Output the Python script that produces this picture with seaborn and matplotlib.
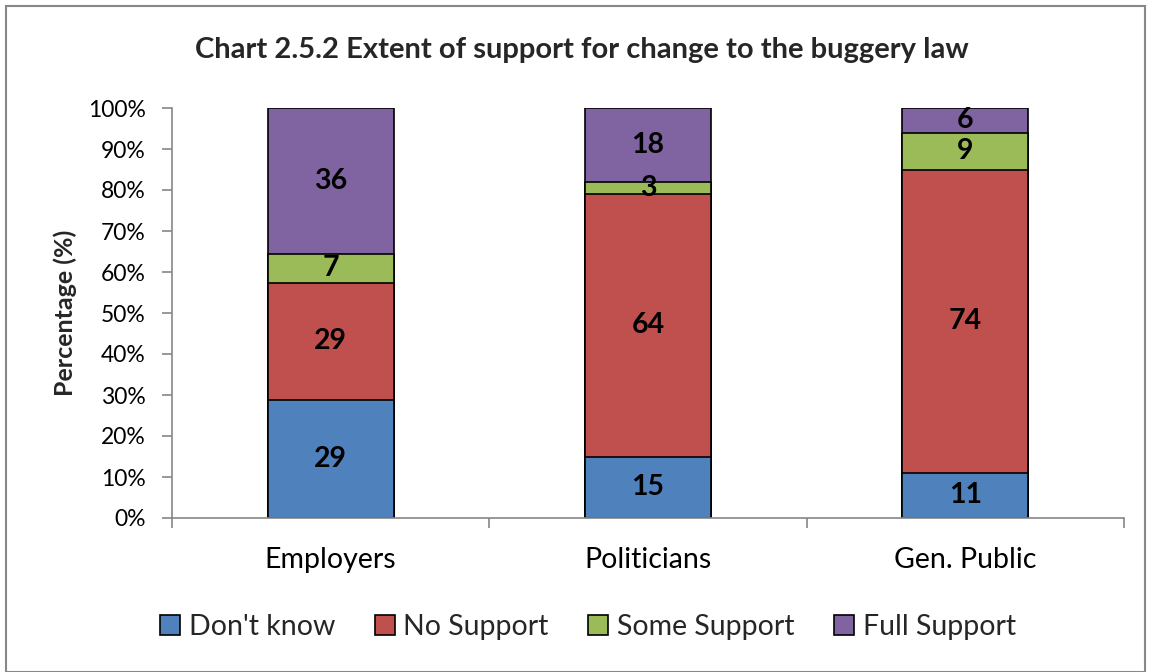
import matplotlib
matplotlib.use("Agg")
import matplotlib.pyplot as plt
import seaborn as sns
import pandas as pd
import numpy as np
from matplotlib.patches import Rectangle, Patch
from matplotlib.ticker import MultipleLocator, FixedLocator, PercentFormatter

groups = ["Employers", "Politicians", "Gen. Public"]
series = ["Don't know", "No Support", "Some Support", "Full Support"]
dont_know = [29, 15, 11]
no_support = [29, 64, 74]
some_support = [7, 3, 9]
full_support = [36, 18, 6]
colors = ["#4F81BD", "#C0504D", "#9BBB59", "#8064A2"]

sns.set_theme(style="white")
plt.rcParams["font.family"] = ["Lato", "DejaVu Sans"]

vals = np.array([dont_know, no_support, some_support, full_support], dtype=float)
totals = vals.sum(axis=0)
pct = vals / totals * 100
cum = np.cumsum(pct, axis=0)

fig = plt.figure(figsize=(11.51, 6.72), dpi=100)
ax = fig.add_axes([172/1151, 1-518/672, (1124-172)/1151, (518-108)/672])

# draw from top cumulative down so segments overlay
for i in range(3, -1, -1):
    df = pd.DataFrame({"group": groups, "value": cum[i]})
    sns.barplot(data=df, x="group", y="value", color=colors[i], ax=ax,
                width=126/318, edgecolor="black", linewidth=1.2, saturation=1)

for i in range(4):
    for j in range(3):
        bottom = cum[i][j] - pct[i][j]
        ax.text(j, bottom + pct[i][j]/2, f"{int(vals[i][j])}", ha="center", va="center",
                fontsize=20.5, fontweight="bold", color="black")

ax.set_xlim(-0.5, 2.5)
ax.set_ylim(0, 100)
ax.yaxis.set_major_locator(MultipleLocator(10))
ax.yaxis.set_major_formatter(PercentFormatter(decimals=0))
ax.xaxis.set_minor_locator(FixedLocator([-0.5, 0.5, 1.5, 2.5]))
ax.tick_params(axis="x", which="major", length=0, labelsize=20.5, pad=21)
ax.tick_params(axis="x", which="minor", length=7, width=1.2, color="#868686", direction="out")
ax.tick_params(axis="y", length=7, width=1.2, color="#868686", direction="out", labelsize=16.5, pad=12)
ax.tick_params(bottom=True, left=True, which="both")
for s in ["top", "right"]:
    ax.spines[s].set_visible(False)
for s in ["left", "bottom"]:
    ax.spines[s].set_color("#868686")
    ax.spines[s].set_linewidth(1.2)
ax.set_xlabel("")
ax.set_ylabel("Percentage (%)", fontsize=18, fontweight="bold", labelpad=8)
for lab in ax.get_xticklabels():
    lab.set_color("black")
for lab in ax.get_yticklabels():
    lab.set_color("black")

fig.text(582/1151, 1-50/672, "Chart 2.5.2 Extent of support for change to the buggery law",
         ha="center", va="center", fontsize=21, fontweight="bold")

handles = [Patch(facecolor=c, edgecolor="black", linewidth=1.2) for c in colors]
fig.legend(handles, series, loc="center", bbox_to_anchor=(588/1151, 1-627/672), ncol=4,
           frameon=False, fontsize=20.5, handlelength=0.7, handleheight=0.7,
           handletextpad=0.3, columnspacing=1.4)

fig.patches.append(Rectangle((6/1151, 0.0), 1-12/1151, 1-6/672, transform=fig.transFigure,
                             fill=False, edgecolor="#888888", linewidth=1.5))

fig.savefig("out.png", dpi=100)
